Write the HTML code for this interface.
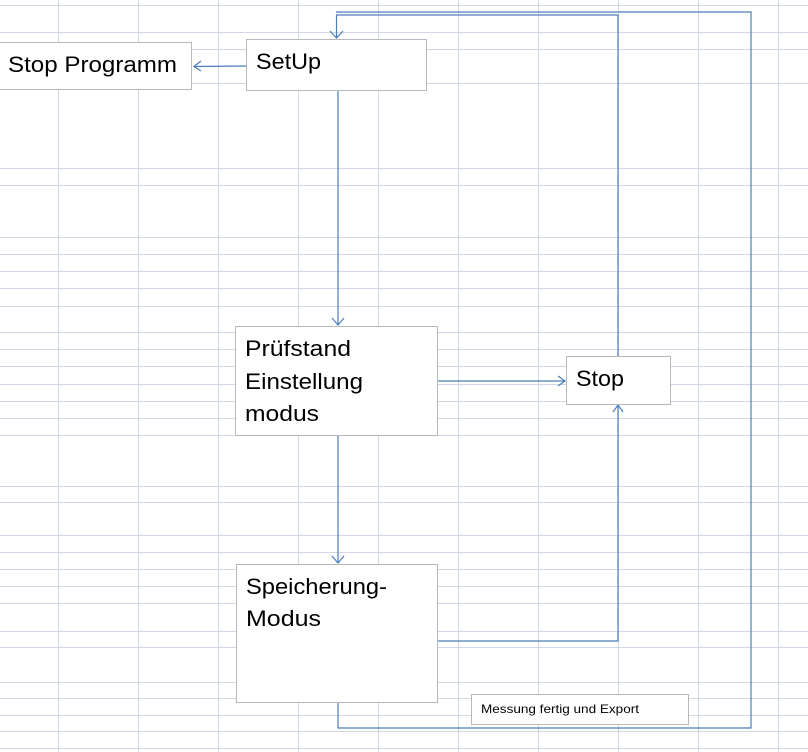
<!DOCTYPE html>
<html><head><meta charset="utf-8"><style>
html,body{margin:0;padding:0;background:#fff;}
svg{display:block;}
text{font-family:"Liberation Sans",sans-serif;fill:#000;}
</style></head><body>
<svg width="808" height="752" viewBox="0 0 808 752" xmlns="http://www.w3.org/2000/svg">
<g stroke="#d0d7e5" stroke-width="1">
<line x1="58.5" y1="0" x2="58.5" y2="752"/><line x1="138.5" y1="0" x2="138.5" y2="752"/>
<line x1="218.5" y1="0" x2="218.5" y2="752"/><line x1="298.5" y1="0" x2="298.5" y2="752"/>
<line x1="378.5" y1="0" x2="378.5" y2="752"/><line x1="458.5" y1="0" x2="458.5" y2="752"/>
<line x1="538.5" y1="0" x2="538.5" y2="752"/><line x1="618.5" y1="0" x2="618.5" y2="752"/>
<line x1="698.5" y1="0" x2="698.5" y2="752"/><line x1="778.5" y1="0" x2="778.5" y2="752"/>
<g id="h">
<line x1="0" y1="5.5" x2="808" y2="5.5"/><line x1="0" y1="32.5" x2="808" y2="32.5"/>
<line x1="0" y1="49.5" x2="808" y2="49.5"/><line x1="0" y1="83.5" x2="808" y2="83.5"/>
<line x1="0" y1="168.5" x2="808" y2="168.5"/><line x1="0" y1="185.5" x2="808" y2="185.5"/>
<line x1="0" y1="237.5" x2="808" y2="237.5"/><line x1="0" y1="254.5" x2="808" y2="254.5"/>
<line x1="0" y1="271.5" x2="808" y2="271.5"/><line x1="0" y1="288.5" x2="808" y2="288.5"/>
<line x1="0" y1="306.5" x2="808" y2="306.5"/><line x1="0" y1="332.5" x2="808" y2="332.5"/>
<line x1="0" y1="349.5" x2="808" y2="349.5"/><line x1="0" y1="366.5" x2="808" y2="366.5"/>
<line x1="0" y1="384.5" x2="808" y2="384.5"/><line x1="0" y1="401.5" x2="808" y2="401.5"/>
<line x1="0" y1="418.5" x2="808" y2="418.5"/><line x1="0" y1="435.5" x2="808" y2="435.5"/>
<line x1="0" y1="486.5" x2="808" y2="486.5"/><line x1="0" y1="502.5" x2="808" y2="502.5"/>
<line x1="0" y1="535.5" x2="808" y2="535.5"/><line x1="0" y1="552.5" x2="808" y2="552.5"/>
<line x1="0" y1="569.5" x2="808" y2="569.5"/><line x1="0" y1="586.5" x2="808" y2="586.5"/>
<line x1="0" y1="603.5" x2="808" y2="603.5"/><line x1="0" y1="631.5" x2="808" y2="631.5"/>
<line x1="0" y1="647.5" x2="808" y2="647.5"/><line x1="0" y1="682.5" x2="808" y2="682.5"/>
<line x1="0" y1="698.5" x2="808" y2="698.5"/><line x1="0" y1="715.5" x2="808" y2="715.5"/>
<line x1="0" y1="731.5" x2="808" y2="731.5"/><line x1="0" y1="748.5" x2="808" y2="748.5"/>
</g>
</g>
<!-- connectors -->
<g stroke="#4a7ebb" stroke-width="1.2" fill="none">
<polyline points="338,703 338,728 751,728 751,12 336,12"/>
<polyline points="618,356 618,15 336.5,15 336.5,38"/>
<polyline points="330,31 336.5,38 343,31"/>
<line x1="246" y1="66" x2="194" y2="66.5"/>
<polyline points="201,61 194,66.5 201,71"/>
<line x1="338" y1="91" x2="338" y2="325"/>
<polyline points="332,318 338,325 344,318"/>
<line x1="438" y1="381" x2="565" y2="381"/>
<polyline points="558,376 565,381 558,386"/>
<line x1="338" y1="436" x2="338" y2="563"/>
<polyline points="332,556 338,563 344,556"/>
<polyline points="438,641 618,641 618,405"/>
<polyline points="613,412 618,405 623,412"/>
</g>
<!-- boxes -->
<g fill="#fff" stroke="#b8b8b8" stroke-width="1">
<rect x="-1.5" y="42.5" width="193" height="47"/>
<rect x="246.5" y="39.5" width="180" height="51"/>
<rect x="235.5" y="326.5" width="202" height="109"/>
<rect x="566.5" y="356.5" width="104" height="48"/>
<rect x="236.5" y="564.5" width="201" height="138"/>
<rect x="471.5" y="694.5" width="217" height="30"/>
</g>
<g font-size="22">
<text x="8" y="72" textLength="169" lengthAdjust="spacingAndGlyphs">Stop Programm</text>
<text x="256" y="69" textLength="65" lengthAdjust="spacingAndGlyphs">SetUp</text>
<text x="245" y="356" textLength="106" lengthAdjust="spacingAndGlyphs">Prüfstand</text>
<text x="245" y="389" textLength="118" lengthAdjust="spacingAndGlyphs">Einstellung</text>
<text x="245" y="421" textLength="74" lengthAdjust="spacingAndGlyphs">modus</text>
<text x="576" y="386" textLength="48" lengthAdjust="spacingAndGlyphs">Stop</text>
<text x="246" y="594" textLength="141" lengthAdjust="spacingAndGlyphs">Speicherung-</text>
<text x="246" y="626" textLength="75" lengthAdjust="spacingAndGlyphs">Modus</text>
</g>
<text x="481" y="713" font-size="12" textLength="158" lengthAdjust="spacingAndGlyphs">Messung fertig und Export</text>
</svg>
</body></html>
